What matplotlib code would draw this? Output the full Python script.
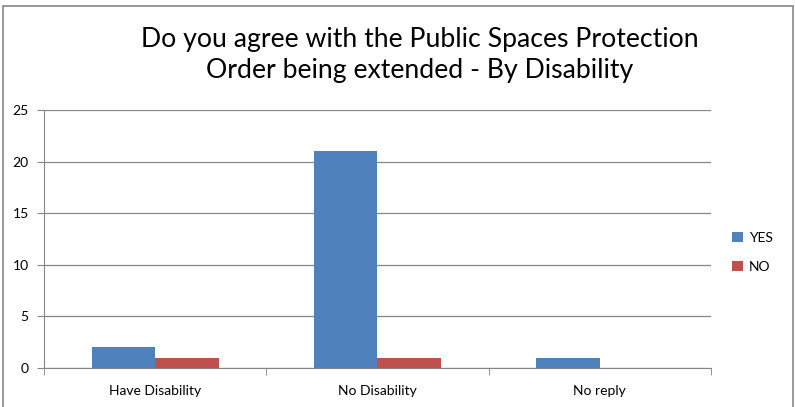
import matplotlib.pyplot as plt
import numpy as np
from matplotlib.patches import Rectangle

categories = ["Have Disability", "No Disability", "No reply"]
yes_values = [2, 21, 1]
no_values = [1, 1, 0]
title = "Do you agree with the Public Spaces Protection\nOrder being extended - By Disability"

plt.rcParams['font.family'] = ['Lato', 'DejaVu Sans']

fig = plt.figure(figsize=(7.95, 4.07), dpi=100)
ax = fig.add_axes([0.0553, 0.0958, 0.8390, 0.6339])

x = np.arange(len(categories))
w = 1 / 3.5
ax.bar(x - w / 2, yes_values, w, color="#4F81BD", label="YES", zorder=3)
ax.bar(x + w / 2, no_values, w, color="#C0504D", label="NO", zorder=3)

ax.set_xlim(-0.5, len(categories) - 0.5)
ax.set_ylim(0, 25)
ax.set_yticks(range(0, 26, 5))
ax.yaxis.grid(True, color="#868686", linewidth=0.9, zorder=0)
ax.set_xticks(x)
ax.set_xticklabels(categories, fontsize=10)
ax.set_xticks(np.arange(-0.5, len(categories), 1), minor=True)
ax.tick_params(axis="x", which="major", length=0, pad=12)
ax.tick_params(axis="x", which="minor", length=5, color="#868686")
ax.tick_params(axis="y", length=5, color="#868686", labelsize=10, pad=6)
for s in ["top", "right"]:
    ax.spines[s].set_visible(False)
for s in ["left", "bottom"]:
    ax.spines[s].set_color("#868686")

fig.text(0.528, 0.865, title, ha="center", va="center", fontsize=19.2,
         linespacing=1.32)

fig.legend(loc="center left", bbox_to_anchor=(0.905, 0.38), frameon=False,
           fontsize=10, handlelength=0.8, handleheight=0.8, handletextpad=0.4,
           labelspacing=1.2)

fig.patches.append(Rectangle((0.004, -0.01), 0.994, 0.995, transform=fig.transFigure,
                             fill=False, edgecolor="#868686", linewidth=1.2))

fig.savefig("out.png", dpi=100)
